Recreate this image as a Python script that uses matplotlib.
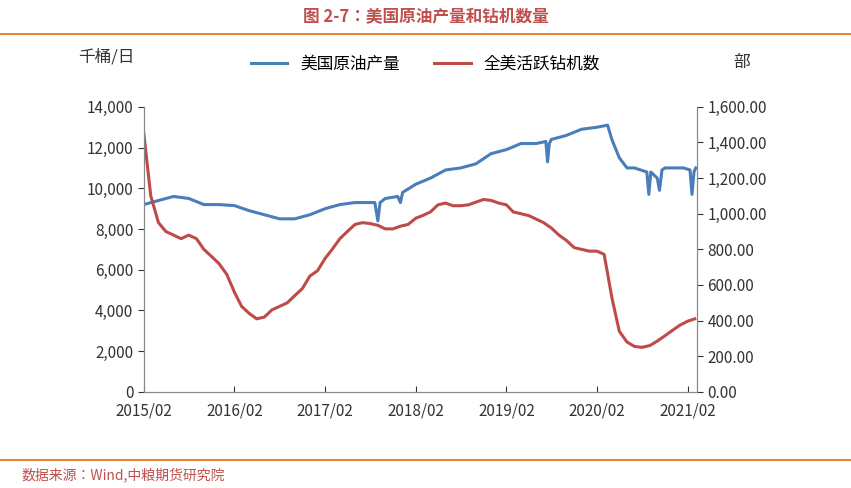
import matplotlib
matplotlib.use("Agg")
import matplotlib.pyplot as plt
from matplotlib import font_manager as fm
import pandas as pd

cjk = [f for f in fm.findSystemFonts() if 'CJK' in f or 'cjk' in f.lower()]
for f in cjk:
    try: fm.fontManager.addfont(f)
    except Exception: pass
names = sorted({fm.FontProperties(fname=f).get_name() for f in cjk})
fam = [n for n in names if 'SC' in n] + names + ['DejaVu Sans']
plt.rcParams['font.family'] = fam

oil_dates = ["2015-02-01","2015-04-01","2015-06-01","2015-08-01","2015-10-01","2015-12-01","2016-02-01","2016-04-01","2016-06-01","2016-08-01","2016-10-01","2016-12-01","2017-02-01","2017-04-01","2017-06-01","2017-08-20","2017-09-01","2017-09-10","2017-10-01","2017-11-20","2017-12-01","2017-12-10","2018-02-01","2018-04-01","2018-06-01","2018-08-01","2018-10-01","2018-12-01","2019-02-01","2019-04-01","2019-06-01","2019-07-10","2019-07-17","2019-07-24","2019-08-01","2019-10-01","2019-12-01","2020-02-01","2020-03-15","2020-04-01","2020-05-01","2020-06-01","2020-07-01","2020-08-20","2020-08-28","2020-09-05","2020-10-01","2020-10-10","2020-10-20","2020-11-01","2020-12-01","2021-01-15","2021-02-10","2021-02-18","2021-02-26","2021-03-05"]
oil_vals = [9200,9400,9600,9500,9200,9200,9150,8900,8700,8500,8500,8700,9000,9200,9300,9300,8400,9300,9500,9600,9300,9800,10200,10500,10900,11000,11200,11700,11900,12200,12200,12300,11300,12200,12400,12600,12900,13000,13100,12400,11500,11000,11000,10800,9700,10800,10500,9900,10900,11000,11000,11000,10900,9700,10800,11000]

rig_dates = pd.date_range("2015-02-01","2021-03-01",freq="MS")
rig_vals = [1450,1100,950,900,880,860,880,860,800,760,720,660,560,480,440,410,420,460,480,500,540,580,650,680,750,800,860,900,940,950,945,935,915,915,930,940,975,990,1010,1050,1060,1045,1045,1050,1065,1080,1075,1060,1050,1010,1000,990,970,950,920,880,850,810,800,790,790,772,530,340,280,255,250,260,285,315,345,375,397,410]

xticks = ["2015/02","2016/02","2017/02","2018/02","2019/02","2020/02","2021/02"]

fig = plt.figure(figsize=(8.51,4.88), dpi=100)
ax = fig.add_axes([0.169,0.197,0.65,0.584])
ax2 = ax.twinx()
blue = "#4A7EBB"; red = "#BE4B48"
l1, = ax.plot(pd.to_datetime(oil_dates), oil_vals, color=blue, lw=2.2, label="美国原油产量")
l2, = ax2.plot(rig_dates, rig_vals, color=red, lw=2.2, label="全美活跃钻机数")
ax.set_ylim(0,14000); ax2.set_ylim(0,1600)
ax.set_yticks(range(0,14001,2000))
ax.set_yticklabels([f"{v:,}" for v in range(0,14001,2000)])
ax2.set_yticks(range(0,1601,200))
ax2.set_yticklabels([f"{v:,.2f}" for v in range(0,1601,200)])
tickd = pd.to_datetime([t.replace("/","-")+"-01" for t in xticks])
ax.set_xticks(tickd); ax.set_xticklabels(xticks)
ax.set_xlim(pd.Timestamp("2015-02-01"), pd.Timestamp("2021-03-10"))
for a in (ax,ax2):
    a.spines['top'].set_visible(False)
    for s in a.spines.values(): s.set_color("#888888")
    a.tick_params(labelsize=11, colors="#333333", length=4)
ax.tick_params(axis='x', direction='in', pad=8)
fig.legend(handles=[l1,l2], loc='center', bbox_to_anchor=(0.5,0.868), ncol=2, frameon=False, fontsize=12, handlelength=2.2, columnspacing=2)
fig.text(0.092,0.875,"千桶/日",fontsize=12,color="#333333")
fig.text(0.862,0.862,"部",fontsize=12,color="#333333")
fig.text(0.5,0.965,"图 2-7：美国原油产量和钻机数量",ha='center',va='center',fontsize=12,fontweight='bold',color="#C0504D")
orange="#E46C0A"
fig.add_artist(plt.Line2D([0,1],[0.93,0.93],color=orange,lw=1.2))
fig.add_artist(plt.Line2D([0,1],[0.057,0.057],color=orange,lw=1.2))
fig.text(0.025,0.027,"数据来源：Wind,中粮期货研究院",ha='left',va='center',fontsize=10,style='italic',color="#C0504D")
fig.savefig("out.png",dpi=100)
